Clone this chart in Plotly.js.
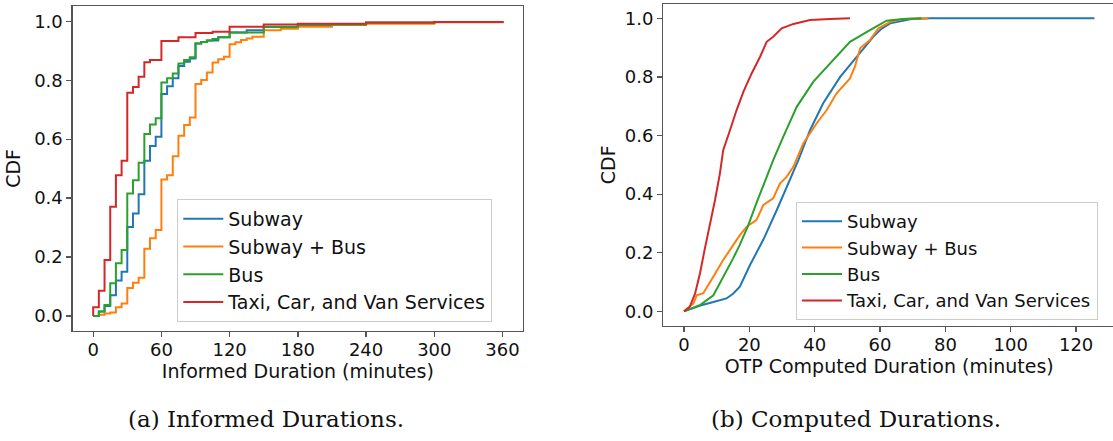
<!DOCTYPE html>
<html>
<head>
<meta charset="utf-8">
<script src="https://cdn.plot.ly/plotly-3.0.1.min.js"></script>
<style>
html,body{margin:0;padding:0;overflow:hidden;background:#fff;}
#chart{width:1116px;height:441px;}
</style>
</head>
<body>
<div id="chart"></div>
<script>
// ---- Series names & colours ----
const seriesNames = ["Subway", "Subway + Bus", "Bus", "Taxi, Car, and Van Services"];
const seriesColors = ["#1f77b4", "#ff7f0e", "#2ca02c", "#d62728"];

// ---- (a) Informed durations (step CDFs, minutes) ----
const subwayInfX = [0, 5, 10, 15, 20, 25, 30, 35, 40, 45, 50, 55, 60, 65, 70, 75, 80, 85, 90, 95, 100, 110, 120, 135, 150, 180, 210, 240, 300, 360];
const subwayInfY = [0, 0.015, 0.034, 0.07, 0.12, 0.15, 0.302, 0.348, 0.413, 0.527, 0.577, 0.608, 0.753, 0.78, 0.807, 0.848, 0.863, 0.874, 0.925, 0.93, 0.935, 0.946, 0.962, 0.97, 0.981, 0.987, 0.991, 0.995, 0.998, 1.0];

const subBusInfX = [0, 5, 10, 15, 20, 25, 30, 35, 40, 45, 50, 55, 60, 65, 70, 75, 80, 85, 90, 95, 100, 105, 110, 115, 120, 125, 130, 135, 140, 150, 165, 180, 210, 240, 300, 360];
const subBusInfY = [0, 0.004, 0.008, 0.012, 0.03, 0.042, 0.095, 0.113, 0.13, 0.228, 0.264, 0.292, 0.463, 0.478, 0.542, 0.612, 0.648, 0.674, 0.787, 0.801, 0.826, 0.86, 0.871, 0.88, 0.922, 0.929, 0.937, 0.942, 0.948, 0.97, 0.975, 0.982, 0.988, 0.992, 0.997, 1.0];

const busInfX = [0, 5, 10, 15, 20, 25, 30, 35, 40, 45, 50, 55, 60, 65, 70, 75, 80, 85, 90, 95, 100, 105, 110, 120, 150, 180, 240, 300, 360];
const busInfY = [0, 0.015, 0.037, 0.111, 0.179, 0.224, 0.416, 0.461, 0.52, 0.618, 0.65, 0.671, 0.792, 0.807, 0.823, 0.857, 0.869, 0.878, 0.925, 0.93, 0.935, 0.94, 0.946, 0.962, 0.982, 0.988, 0.995, 0.998, 1.0];

const taxiInfX = [0, 0, 5, 10, 15, 20, 25, 30, 35, 40, 45, 50, 60, 75, 90, 105, 120, 150, 180, 240, 300, 360];
const taxiInfY = [0, 0.03, 0.086, 0.19, 0.371, 0.478, 0.527, 0.758, 0.777, 0.812, 0.861, 0.869, 0.933, 0.946, 0.96, 0.965, 0.982, 0.989, 0.992, 0.996, 0.998, 1.0];

// ---- (b) OTP computed durations (smooth CDFs, minutes) ----
const subwayOtpX = [0, 5, 9, 13, 15, 17.1, 20.2, 24.3, 28.4, 32.4, 35, 38.6, 42.6, 47.8, 52.9, 57.9, 60.5, 63.1, 69.2, 75.3, 90, 110, 125.6];
const subwayOtpY = [0, 0.02, 0.032, 0.044, 0.06, 0.084, 0.158, 0.245, 0.346, 0.448, 0.516, 0.619, 0.71, 0.8, 0.869, 0.937, 0.965, 0.983, 0.997, 1.0, 1.0, 1.0, 1.0];

const subBusOtpX = [0, 2.9, 3.9, 5.9, 8, 9.5, 12, 15.1, 17.1, 19.2, 22.2, 24.3, 27.3, 29.4, 31.4, 33.5, 36.5, 40.6, 43.7, 46.7, 50.8, 52.3, 53.9, 56.9, 59.5, 63.1, 67.1, 74.8];
const subBusOtpY = [0, 0.027, 0.055, 0.062, 0.1, 0.13, 0.175, 0.227, 0.26, 0.289, 0.312, 0.363, 0.386, 0.437, 0.459, 0.494, 0.573, 0.642, 0.687, 0.744, 0.795, 0.835, 0.898, 0.926, 0.966, 0.988, 0.998, 1.0];

const busOtpX = [0, 5, 9, 12, 15, 17, 19.5, 22.2, 23.3, 24.3, 27.3, 30.4, 34.5, 39.6, 44.7, 50.8, 56.9, 62, 67.1, 72.7];
const busOtpY = [0, 0.022, 0.055, 0.115, 0.18, 0.225, 0.289, 0.37, 0.403, 0.43, 0.516, 0.596, 0.698, 0.784, 0.846, 0.92, 0.96, 0.992, 0.998, 1.0];

const taxiOtpX = [0, 1.8, 3.4, 4.9, 6.4, 8, 9.5, 11, 12, 14.1, 16.1, 18.2, 20.7, 23.3, 25.3, 27.3, 29.9, 33.5, 38.6, 44.7, 50.8];
const taxiOtpY = [0, 0.016, 0.061, 0.13, 0.215, 0.295, 0.38, 0.471, 0.55, 0.619, 0.687, 0.75, 0.812, 0.869, 0.92, 0.937, 0.966, 0.981, 0.994, 0.998, 1.0];

// ---- Ticks & labels ----
const leftXTicks = [0, 60, 120, 180, 240, 300, 360];
const rightXTicks = [0, 20, 40, 60, 80, 100, 120];
const yTicks = [0, 0.2, 0.4, 0.6, 0.8, 1.0];
const leftXTitle = "Informed Duration (minutes)";
const rightXTitle = "OTP Computed Duration (minutes)";
const yTitle = "CDF";
const captionA = "(a) Informed Durations.";
const captionB = "(b) Computed Durations.";

const W = 1116, H = 441;
const px = v => v / W;
const py = v => 1 - v / H;

const infSeries = [[subwayInfX, subwayInfY], [subBusInfX, subBusInfY], [busInfX, busInfY], [taxiInfX, taxiInfY]];
const otpSeries = [[subwayOtpX, subwayOtpY], [subBusOtpX, subBusOtpY], [busOtpX, busOtpY], [taxiOtpX, taxiOtpY]];

const traces = [];
infSeries.forEach((s, i) => {
  traces.push({
    x: s[0], y: s[1], type: "scatter", mode: "lines",
    line: {color: seriesColors[i], width: 2, shape: "hv"},
    name: seriesNames[i], xaxis: "x", yaxis: "y", legend: "legend"
  });
});
otpSeries.forEach((s, i) => {
  traces.push({
    x: s[0], y: s[1], type: "scatter", mode: "lines",
    line: {color: seriesColors[i], width: 2},
    name: seriesNames[i], xaxis: "x2", yaxis: "y2", legend: "legend2"
  });
});

const FONT = "DejaVu Sans, Arial, sans-serif";
const SERIF = "DejaVu Serif, Liberation Serif, serif";
const axisCommon = {
  showgrid: false, zeroline: false, showline: true, mirror: true,
  linecolor: "#555", linewidth: 1.3, ticks: "outside", ticklen: 5,
  tickcolor: "#555", tickwidth: 1.3, tickfont: {family: FONT, size: 18, color: "#111"},
  automargin: false
};
const titleFont = {family: FONT, size: 19, color: "#111"};

const legendCommon = {
  bgcolor: "rgba(255,255,255,0.85)", bordercolor: "#cccccc", borderwidth: 1,
  xanchor: "left", yanchor: "top", itemwidth: 40, tracegroupgap: 0
};

const layout = {
  width: W, height: H,
  margin: {l: 0, r: 0, t: 0, b: 0, pad: 0},
  paper_bgcolor: "#fff", plot_bgcolor: "#fff",
  showlegend: true,
  xaxis: Object.assign({}, axisCommon, {
    domain: [px(72.7), px(523)], range: [-18, 378], tickvals: leftXTicks, ticklabelstandoff: -3,
    anchor: "y", title: {text: leftXTitle, font: titleFont, standoff: 6}
  }),
  yaxis: Object.assign({}, axisCommon, {
    domain: [py(330.7), py(6)], range: [-0.05, 1.052], tickvals: yTicks, tickformat: ".1f",
    anchor: "x", title: {text: yTitle, font: titleFont, standoff: 8}
  }),
  xaxis2: Object.assign({}, axisCommon, {
    domain: [px(663.4), px(1115)], range: [-6.3, 131.9], tickvals: rightXTicks, ticklabelstandoff: -3,
    anchor: "y2", title: {text: rightXTitle, font: titleFont, standoff: 6}
  }),
  yaxis2: Object.assign({}, axisCommon, {
    domain: [py(325.7), py(4)], range: [-0.049, 1.049], tickvals: yTicks, tickformat: ".1f",
    anchor: "x2", title: {text: yTitle, font: titleFont, standoff: 4}
  }),
  legend: Object.assign({}, legendCommon, {x: px(177.3), y: py(199),
    font: {family: FONT, size: 19, color: "#111"}}),
  legend2: Object.assign({}, legendCommon, {x: px(796), y: py(202),
    font: {family: FONT, size: 18, color: "#111"}}),
  annotations: [
    {text: captionA, xref: "paper", yref: "paper", x: px(266), y: py(419), showarrow: false,
     xanchor: "center", yanchor: "middle", font: {family: SERIF, size: 23, color: "#111"}},
    {text: captionB, xref: "paper", yref: "paper", x: px(856), y: py(419), showarrow: false,
     xanchor: "center", yanchor: "middle", font: {family: SERIF, size: 23, color: "#111"}}
  ]
};

Plotly.newPlot("chart", traces, layout, {displayModeBar: false, staticPlot: true});
</script>
</body>
</html>
